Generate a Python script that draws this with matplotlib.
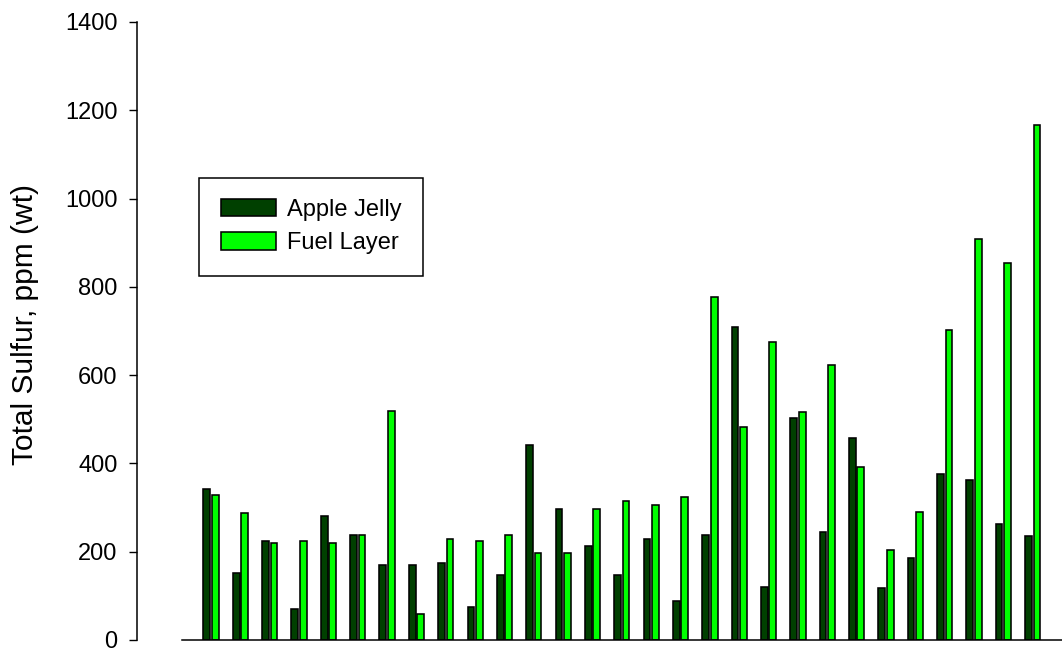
"""
Total sulfur of apple jelly vs. fuel layer, per sample.
"""

import numpy as np
import matplotlib
matplotlib.use("Agg")
import matplotlib.pyplot as plt

plt.rcParams['font.family'] = ['Liberation Sans', 'DejaVu Sans']

# samples (no x labels on the original)
samples = list(range(1, 30))
apple_jelly = [341, 151, 224, 70, 282, 237, 169, 169, 174, 74,
               147, 441, 296, 214, 147, 228, 88, 237, 708, 119,
               503, 245, 458, 118, 186, 377, 363, 263, 236]
fuel_layer = [328, 287, 219, 224, 219, 237, 518, 60, 228, 224,
              237, 196, 196, 296, 314, 305, 323, 776, 482, 676,
              517, 622, 391, 204, 290, 703, 908, 853, 1166]
y_ticks = [0, 200, 400, 600, 800, 1000, 1200, 1400]

fig = plt.figure(figsize=(10.62, 6.56), dpi=100)
ax = fig.add_axes([181.7 / 1062, 16 / 656, 1 - 181.7 / 1062, 618 / 656])

x = np.arange(len(samples))
w = 0.23
ax.bar(x - 0.145, apple_jelly, w, color='#004000', edgecolor='black',
       linewidth=1.15, label='Apple Jelly')
ax.bar(x + 0.145, fuel_layer, w, color='#00ff00', edgecolor='black',
       linewidth=1.15, label='Fuel Layer')

ax.set_xlim(-1, 29)
ax.set_ylim(0, 1400)
ax.set_yticks(y_ticks)
ax.set_xticks([])

for s in ['top', 'right']:
    ax.spines[s].set_visible(False)
ax.spines['left'].set_position(('outward', 32))
ax.spines['left'].set_linewidth(1.1)
ax.spines['bottom'].set_linewidth(1.1)
ax.tick_params(axis='y', direction='out', length=5.8, width=1.0,
               pad=8.5, labelsize=17)

ax.set_ylabel('Total Sulfur, ppm (wt)', fontsize=21.5)
ax.yaxis.set_label_coords(39.5 / 1062, 0.505, transform=fig.transFigure)

leg = ax.legend(loc='upper left', bbox_to_anchor=(199.3 / 1062, 1 - 177.7 / 656),
                bbox_transform=fig.transFigure, fontsize=17, fancybox=False,
                framealpha=1, edgecolor='black', borderaxespad=0,
                borderpad=0.9, handlelength=2.33, handleheight=0.76,
                handletextpad=0.5, labelspacing=0.48)
leg.get_frame().set_linewidth(1.1)

fig.savefig("out.png", dpi=100)
